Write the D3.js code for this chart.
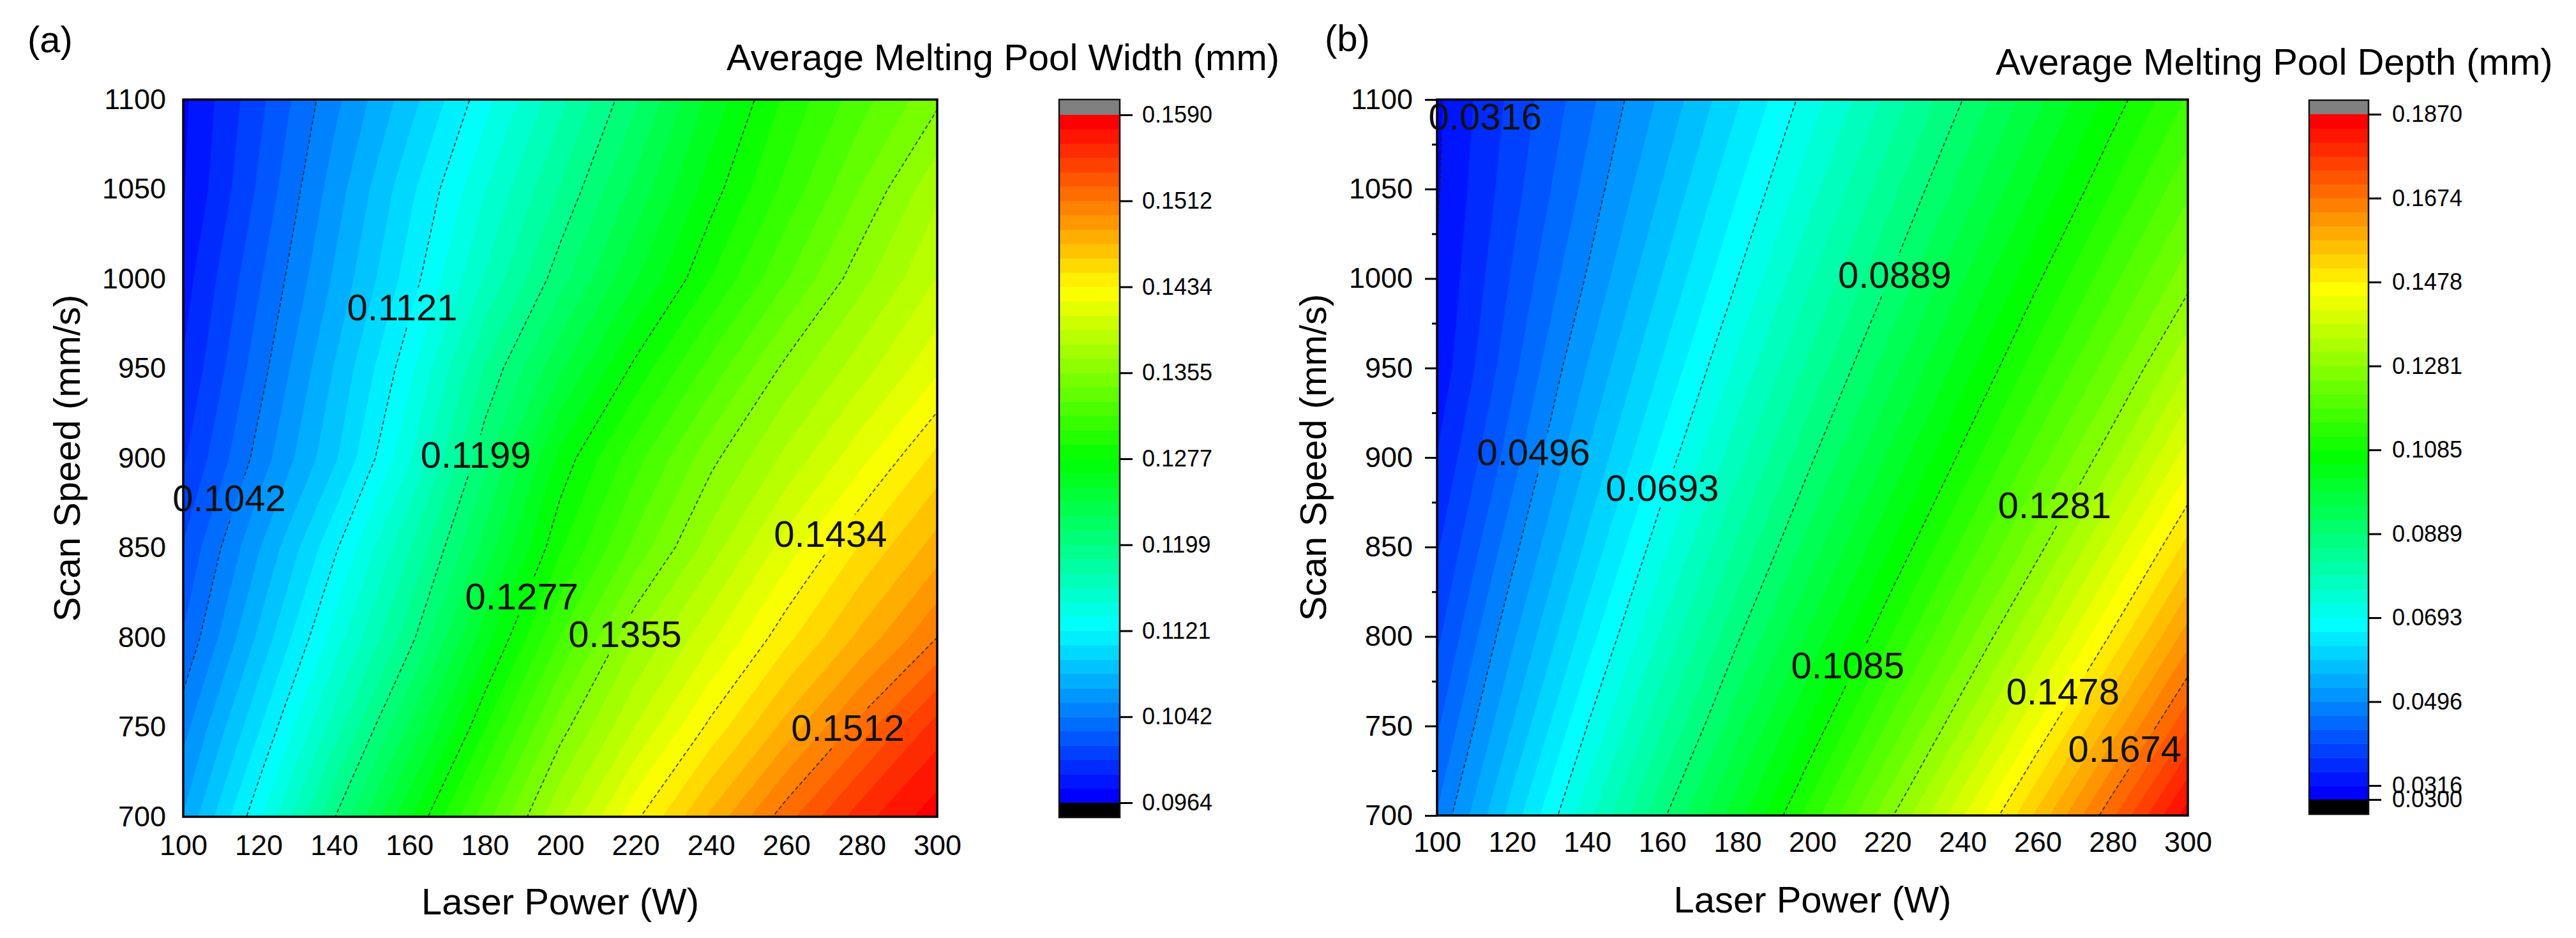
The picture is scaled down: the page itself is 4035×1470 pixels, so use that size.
<!DOCTYPE html>
<html>
<head>
<meta charset="utf-8">
<script src="https://cdn.jsdelivr.net/npm/d3@7"></script>
<style>
  html, body { margin: 0; padding: 0; background: #fff; }
  svg { display: block; }
  text { font-family: "Liberation Sans", Arial, Helvetica, sans-serif; }
</style>
</head>
<body>
<svg id="chart" width="4035" height="1470"></svg>
<script>
// ---------------- DATA ----------------
const laserPower = [100, 120, 140, 160, 180, 200, 220, 240, 260, 280, 300];
const scanSpeed  = [1100, 1050, 1000, 950, 900, 850, 800, 750, 700];

// Average melting pool width (mm), rows = scanSpeed, cols = laserPower
const widthValues = [
  [0.0974, 0.1012, 0.1051, 0.1089, 0.1129, 0.1169, 0.1210, 0.1255, 0.1293, 0.1324, 0.1352],
  [0.0976, 0.1018, 0.1061, 0.1104, 0.1146, 0.1187, 0.1229, 0.1271, 0.1307, 0.1343, 0.1378],
  [0.0984, 0.1027, 0.1070, 0.1114, 0.1161, 0.1207, 0.1250, 0.1290, 0.1328, 0.1364, 0.1395],
  [0.0991, 0.1036, 0.1082, 0.1130, 0.1187, 0.1236, 0.1281, 0.1321, 0.1359, 0.1389, 0.1418],
  [0.1001, 0.1047, 0.1092, 0.1145, 0.1208, 0.1268, 0.1311, 0.1351, 0.1385, 0.1417, 0.1451],
  [0.1017, 0.1067, 0.1118, 0.1172, 0.1230, 0.1288, 0.1333, 0.1375, 0.1414, 0.1449, 0.1479],
  [0.1030, 0.1084, 0.1139, 0.1194, 0.1258, 0.1316, 0.1367, 0.1405, 0.1443, 0.1477, 0.1512],
  [0.1050, 0.1106, 0.1166, 0.1227, 0.1289, 0.1349, 0.1395, 0.1438, 0.1478, 0.1518, 0.1557],
  [0.1069, 0.1131, 0.1198, 0.1262, 0.1323, 0.1380, 0.1431, 0.1476, 0.1520, 0.1559, 0.1585]
];

// Average melting pool depth (mm)
const depthValues = [
  [0.0310, 0.0384, 0.0456, 0.0536, 0.0623, 0.0712, 0.0800, 0.0889, 0.0978, 0.1067, 0.1154],
  [0.0313, 0.0394, 0.0475, 0.0564, 0.0657, 0.0749, 0.0842, 0.0935, 0.1027, 0.1118, 0.1208],
  [0.0318, 0.0409, 0.0499, 0.0596, 0.0693, 0.0791, 0.0887, 0.0984, 0.1080, 0.1174, 0.1268],
  [0.0325, 0.0427, 0.0530, 0.0631, 0.0734, 0.0836, 0.0937, 0.1037, 0.1136, 0.1235, 0.1345],
  [0.0347, 0.0452, 0.0563, 0.0671, 0.0779, 0.0886, 0.0990, 0.1094, 0.1199, 0.1307, 0.1429],
  [0.0372, 0.0485, 0.0601, 0.0716, 0.0829, 0.0940, 0.1048, 0.1158, 0.1269, 0.1393, 0.1523],
  [0.0399, 0.0522, 0.0644, 0.0765, 0.0884, 0.0998, 0.1112, 0.1230, 0.1354, 0.1485, 0.1625],
  [0.0431, 0.0562, 0.0693, 0.0820, 0.0943, 0.1062, 0.1186, 0.1313, 0.1448, 0.1589, 0.1735],
  [0.0468, 0.0609, 0.0747, 0.0882, 0.1007, 0.1135, 0.1270, 0.1408, 0.1552, 0.1701, 0.1855]
];

const xTicks = [100, 120, 140, 160, 180, 200, 220, 240, 260, 280, 300];
const yTicks = [700, 750, 800, 850, 900, 950, 1000, 1050, 1100];
const yMinorTicks = [725, 775, 825, 875, 925, 975, 1025, 1075];

const widthColorTicks = [0.0964, 0.1042, 0.1121, 0.1199, 0.1277, 0.1355, 0.1434, 0.1512, 0.1590];
const depthColorTicks = [0.0300, 0.0316, 0.0496, 0.0693, 0.0889, 0.1085, 0.1281, 0.1478, 0.1674, 0.1870];

const widthLineLevels = [0.1042, 0.1121, 0.1199, 0.1277, 0.1355, 0.1434, 0.1512];
const depthLineLevels = [0.0316, 0.0496, 0.0693, 0.0889, 0.1085, 0.1281, 0.1478, 0.1674];

const widthLabelValue = [0.1121, 0.1199, 0.1042, 0.1434, 0.1277, 0.1355, 0.1512];
const widthLabelPower = [158.1, 177.6, 112.2, 271.7, 189.8, 217.2, 276.3];
const widthLabelSpeed = [984.3, 902.1, 877.6, 857.7, 823.1, 802.1, 749.5];

const depthLabelValue = [0.0316, 0.0889, 0.0496, 0.0693, 0.1281, 0.1085, 0.1478, 0.1674];
const depthLabelPower = [112.8, 221.9, 125.7, 160.0, 264.5, 209.4, 266.7, 283.2];
const depthLabelSpeed = [1090.7, 1002.0, 902.9, 883.2, 873.3, 784.1, 769.2, 737.1];

// ---------------- LAYOUT / STYLE ----------------
const panels = [
  {
    id: "a", letter: "(a)", letterX: 43, letterY: 82,
    title: "Average Melting Pool Width (mm)", titleX: 1138, titleY: 110,
    x0: 287, x1: 1468, y0: 156, y1: 1280,
    values: widthValues, ticks: widthColorTicks, subdiv: [6, 6, 6, 6, 6, 6, 6, 6],
    lineLevels: widthLineLevels,
    labelValue: widthLabelValue, labelPower: widthLabelPower, labelSpeed: widthLabelSpeed,
    cbX0: 1659, cbX1: 1754, cbTop: 156, cbBandTop: 180, cbBandBottom: 1258, cbBottom: 1281,
    cbPad: 15, yTitleX: 125, xTitleY: 1433, yTickSize: 0, yTickPad: 27, xTickPad: 28
  },
  {
    id: "b", letter: "(b)", letterX: 2075, letterY: 80,
    title: "Average Melting Pool Depth (mm)", titleX: 3126, titleY: 117,
    x0: 2251, x1: 3427, y0: 156, y1: 1278,
    values: depthValues, ticks: depthColorTicks, subdiv: [1, 6, 6, 6, 6, 6, 6, 6, 6],
    lineLevels: depthLineLevels,
    labelValue: depthLabelValue, labelPower: depthLabelPower, labelSpeed: depthLabelSpeed,
    cbX0: 3617, cbX1: 3710, cbTop: 157, cbBandTop: 179, cbBandBottom: 1253, cbBottom: 1276,
    cbPad: 17, yTitleX: 2077, xTitleY: 1430, yTickSize: 19, yTickPad: 19, xTickPad: 25
  }
];

const rainbow = d3.scaleLinear()
  .domain([0, 0.25, 0.5, 0.75, 1])
  .range(["#0000ff", "#00ffff", "#00ff00", "#ffff00", "#ff0000"]);

const svg = d3.select("#chart");
const defs = svg.append("defs");
const fmt4 = d3.format(".4f");
const fmtInt = d3.format("d");

function styleAxis(g, size) {
  g.attr("font-family", null).attr("font-size", null);
  g.selectAll("text").attr("font-size", size).attr("fill", "#000")
    .style("font-family", '"Liberation Sans", Arial, sans-serif');
  g.selectAll(".domain").remove();
  g.selectAll(".tick line").attr("stroke", "#000").attr("stroke-width", 3);
}

panels.forEach(p => {
  const g = svg.append("g");
  const x = d3.scaleLinear([100, 300], [p.x0, p.x1]);
  const y = d3.scaleLinear([700, 1100], [p.y1, p.y0]);
  const nx = laserPower.length, ny = scanSpeed.length;
  // grid coordinate -> data value (sample i sits at i + 0.5)
  const cx = d3.scaleLinear([0.5, nx - 0.5], [laserPower[0], laserPower[nx - 1]]);
  const cy = d3.scaleLinear([0.5, ny - 0.5], [scanSpeed[0], scanSpeed[ny - 1]]);
  const path = d3.geoPath(d3.geoTransform({
    point(px, py) { this.stream.point(x(cx(px)), y(cy(py))); }
  }));
  const flat = p.values.flat();

  // band thresholds from colour-bar ticks
  const thresholds = [];
  p.ticks.forEach((t, i) => {
    if (i === p.ticks.length - 1) { thresholds.push(t); return; }
    const n = p.subdiv[i], nt = p.ticks[i + 1];
    for (let k = 0; k < n; k++) thresholds.push(t + (nt - t) * k / n);
  });
  const nb = thresholds.length - 1;
  const bandColor = k => rainbow(k / (nb - 1));

  // clip
  defs.append("clipPath").attr("id", "clip-" + p.id)
    .append("rect").attr("x", p.x0).attr("y", p.y0)
    .attr("width", p.x1 - p.x0).attr("height", p.y1 - p.y0);

  // filled bands
  const bands = d3.contours().size([nx, ny]).thresholds(thresholds.slice(0, nb))(flat);
  g.append("g").attr("clip-path", `url(#clip-${p.id})`)
    .selectAll("path").data(bands).join("path")
    .attr("d", path)
    .attr("fill", (d, i) => bandColor(i))
    .attr("stroke", (d, i) => bandColor(i))
    .attr("stroke-width", 0.6);

  // contour labels
  const labG = g.append("g");
  const labels = labG.selectAll("text").data(p.labelValue).join("text")
    .attr("x", (d, i) => x(p.labelPower[i]))
    .attr("y", (d, i) => y(p.labelSpeed[i]))
    .attr("text-anchor", "middle")
    .attr("dominant-baseline", "central")
    .attr("font-size", 58)
    .attr("fill", "#111")
    .text(d => fmt4(d));

  // mask to break lines at labels
  const mask = defs.append("mask").attr("id", "mask-" + p.id)
    .attr("maskUnits", "userSpaceOnUse")
    .attr("x", 0).attr("y", 0).attr("width", 4035).attr("height", 1470);
  mask.append("rect").attr("x", 0).attr("y", 0).attr("width", 4035).attr("height", 1470).attr("fill", "#fff");
  labels.each(function () {
    const b = this.getBBox();
    mask.append("rect").attr("x", b.x - 4).attr("y", b.y + 2)
      .attr("width", b.width + 8).attr("height", b.height - 4).attr("fill", "#000");
  });

  // contour lines
  const lines = d3.contours().size([nx, ny]).thresholds(p.lineLevels)(flat);
  g.insert("g", () => labG.node())
    .attr("clip-path", `url(#clip-${p.id})`)
    .append("g").attr("mask", `url(#mask-${p.id})`)
    .selectAll("path").data(lines).join("path")
    .attr("d", path)
    .attr("fill", "none")
    .attr("stroke", "#1a1a1a")
    .attr("stroke-opacity", 0.85)
    .attr("stroke-width", 1.6)
    .attr("stroke-dasharray", "6 4");

  // frame
  g.append("rect").attr("x", p.x0).attr("y", p.y0)
    .attr("width", p.x1 - p.x0).attr("height", p.y1 - p.y0)
    .attr("fill", "none").attr("stroke", "#000").attr("stroke-width", 3.5);

  // axes
  const yAxis = g.append("g").attr("transform", `translate(${p.x0},0)`)
    .call(d3.axisLeft(y).tickValues(yTicks).tickSize(p.yTickSize).tickPadding(p.yTickPad).tickFormat(fmtInt));
  styleAxis(yAxis, 45);
  if (p.yTickSize > 0) {
    const minor = g.append("g").attr("transform", `translate(${p.x0},0)`)
      .call(d3.axisLeft(y).tickValues(yMinorTicks).tickSize(8).tickFormat(""));
    styleAxis(minor, 45);
  }
  const xAxis = g.append("g").attr("transform", `translate(0,${p.y1})`)
    .call(d3.axisBottom(x).tickValues(xTicks).tickSize(0).tickPadding(p.xTickPad).tickFormat(fmtInt));
  styleAxis(xAxis, 45);

  // axis titles
  g.append("text")
    .attr("x", (p.x0 + p.x1) / 2).attr("y", p.xTitleY)
    .attr("text-anchor", "middle").attr("font-size", 58).attr("fill", "#000")
    .text("Laser Power (W)");
  g.append("text")
    .attr("transform", `translate(${p.yTitleX},${(p.y0 + p.y1) / 2}) rotate(-90)`)
    .attr("text-anchor", "middle").attr("font-size", 58).attr("fill", "#000")
    .text("Scan Speed (mm/s)");

  // panel letter & title
  g.append("text").attr("x", p.letterX).attr("y", p.letterY)
    .attr("font-size", 58).attr("fill", "#000").text(p.letter);
  g.append("text").attr("x", p.titleX).attr("y", p.titleY)
    .attr("font-size", 58).attr("fill", "#000").text(p.title);

  // colour bar
  const cb = g.append("g");
  const bandY = d3.scaleLinear([0, nb], [p.cbBandBottom, p.cbBandTop]);
  cb.selectAll("rect.band").data(d3.range(nb)).join("rect")
    .attr("class", "band")
    .attr("x", p.cbX0).attr("width", p.cbX1 - p.cbX0)
    .attr("y", k => bandY(k + 1))
    .attr("height", k => bandY(k) - bandY(k + 1) + 0.5)
    .attr("fill", k => bandColor(k));
  cb.append("rect").attr("x", p.cbX0).attr("width", p.cbX1 - p.cbX0)
    .attr("y", p.cbTop).attr("height", p.cbBandTop - p.cbTop).attr("fill", "#808080");
  cb.append("rect").attr("x", p.cbX0).attr("width", p.cbX1 - p.cbX0)
    .attr("y", p.cbBandBottom).attr("height", p.cbBottom - p.cbBandBottom).attr("fill", "#000");
  cb.append("rect").attr("x", p.cbX0).attr("width", p.cbX1 - p.cbX0)
    .attr("y", p.cbTop).attr("height", p.cbBottom - p.cbTop)
    .attr("fill", "none").attr("stroke", "#111").attr("stroke-width", 2.5);
  const tickScale = d3.scaleLinear()
    .domain(thresholds)
    .range(thresholds.map((t, k) => bandY(k)));
  const cbAxis = cb.append("g").attr("transform", `translate(${p.cbX1},0)`)
    .call(d3.axisRight(tickScale).tickValues(p.ticks).tickSize(20).tickPadding(p.cbPad).tickFormat(fmt4));
  styleAxis(cbAxis, 36);
});
</script>
</body>
</html>
